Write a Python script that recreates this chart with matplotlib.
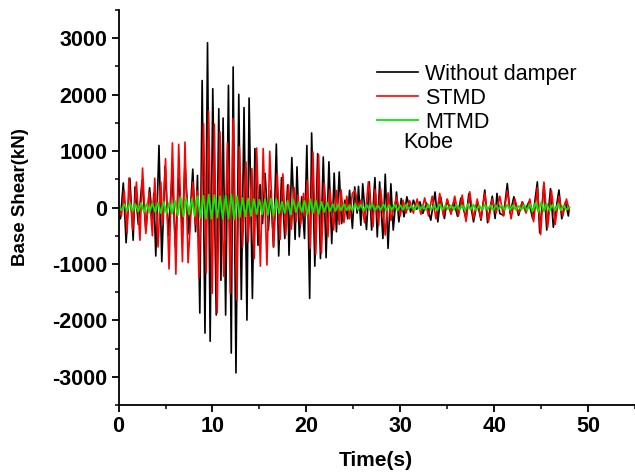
import matplotlib
matplotlib.use("Agg")
import matplotlib.pyplot as plt
from matplotlib.ticker import MultipleLocator

# ---- data: extrema (time [s], base shear [kN]) ----
t_without = [0.0, 0.2, 0.5, 0.8, 1.2, 1.55, 1.75, 2.1, 2.5, 2.9, 3.3, 3.6, 3.75, 3.96,
             4.3, 4.6, 4.95, 5.3, 5.7, 6.05, 6.4, 6.8, 7.07, 7.5, 7.9, 8.2, 8.4, 8.65,
             8.9, 9.2, 9.47, 9.75, 10.03, 10.4, 10.67, 10.9, 11.13, 11.4, 11.7, 12.0,
             12.2, 12.5, 12.8, 13.07, 13.36, 13.67, 13.9, 14.25, 14.52, 14.85, 15.07,
             15.33, 15.6, 15.95, 16.2, 16.5, 16.8, 17.05, 17.35, 17.7, 18.0, 18.15,
             18.45, 18.8, 19.0, 19.25, 19.5, 19.8, 20.05, 20.35, 20.56, 20.9, 21.2,
             21.5, 21.8, 22.1, 22.4, 22.7, 22.96, 23.2, 23.5, 23.75, 24.1, 24.4, 24.6,
             24.9, 25.15, 25.4, 25.55, 25.8, 26.0, 26.4, 26.7, 26.95, 27.3, 27.55,
             27.8, 28.15, 28.4, 28.7, 29.0, 29.25, 29.6, 29.85, 30.1, 30.4, 30.7,
             31.1, 31.4, 31.75, 32.1, 32.4, 32.8, 33.25, 33.7, 34.0, 34.3, 34.7,
             35.0, 35.4, 35.7, 36.1, 36.45, 37.0, 37.3, 37.8, 38.2, 38.6, 39.0, 39.3,
             39.8, 40.1, 40.3, 40.6, 41.0, 41.4, 41.7, 42.1, 42.6, 43.0, 43.3, 43.7,
             44.1, 44.6, 44.85, 45.3, 45.6, 46.0, 46.3, 46.9, 47.2, 47.6, 47.9, 48.0]
v_without = [0, -200, 435, -625, 520, -580, 365, -300, 480, -400, 350, -200, 250, -860,
             1100, -960, 730, -500, 600, -700, 520, -340, 780, -470, 680, -430, 570, -1870,
             2250, -2225, 2920, -2370, 2105, -1905, 1750, -1290, 1585, -1905, 2165, -2580,
             2490, -2930, 2005, -1630, 1770, -1995, 1940, -1610, 1045, -670, 405,
             -285, 605, -400, 300, -700, 1125, -860, 530, -550, 400, -845,
             885, -565, 720, -520, 190, -550, 1100, -1610, 1320, -1040, 955,
             -905, 895, -890, 810, -640, 610, -430, 630, -285, 130, -200, 305,
             -370, 365, -100, 375, -315, 420, -390, 455, -400, 530, -520,
             455, -550, 590, -725, 420, -400, 275, -255, 160, -165, 190,
             -80, 130, -30, 100, -105, 80, -225, 275, -255, 190, -195,
             140, -105, 100, -155, 165, -200, 245, -255, 100, -225, 310, -270,
             200, -195, 250, -105, -140, 425, -105, 190, -140, 100, -50, 100,
             -200, 455, -450, 425, -400, 335, -350, 310, -200, 100, -150, 0]

t_stmd = [0.0, 0.3, 0.6, 0.9, 1.1, 1.5, 1.9, 2.27, 2.55, 2.9, 3.25, 3.6, 3.85, 4.2, 4.5,
          4.7, 5.0, 5.37, 5.73, 6.1, 6.4, 6.8, 7.07, 7.4, 7.9, 8.2, 8.35, 8.55, 9.05,
          9.33, 9.58, 9.97, 10.2, 10.5, 10.8, 11.2, 11.6, 11.9, 12.2, 12.6, 12.86,
          13.2, 13.56, 13.8, 14.2, 14.45, 14.7, 15.1, 15.4, 15.8, 16.1, 16.5, 16.9,
          17.2, 17.5, 17.8, 18.1, 18.4, 18.7, 18.9, 19.1, 19.4, 19.7, 19.9, 20.1,
          20.4, 20.7, 21.0, 21.3, 21.6, 21.9, 22.3, 22.5, 22.9, 23.2, 23.5, 23.7,
          24.0, 24.3, 24.6, 24.9, 25.2, 25.5, 25.8, 26.2, 26.6, 27.1, 27.3, 27.7,
          27.9, 28.4, 28.7, 29.0, 29.6, 30.0, 30.3, 30.6, 31.0, 31.4, 31.8, 32.2,
          32.6, 33.0, 33.4, 33.8, 34.2, 34.6, 35.0, 35.4, 35.8, 36.2, 36.6, 37.0,
          37.4, 37.8, 38.2, 38.6, 39.0, 39.4, 39.8, 40.2, 40.6, 41.0, 41.4, 41.8,
          42.2, 42.6, 43.0, 43.4, 43.8, 44.2, 44.6, 44.95, 45.3, 45.7, 46.1, 46.5,
          46.9, 47.3, 47.7, 48.0]
v_stmd = [0, -150, 300, -450, 520, -400, 450, -580, 700, -460, 275, -500, 520, -700, 450,
          -300, 865, -1090, 1145, -1180, 1120, -960, 1160, -980, 450, -300, 300, -1250, 1485,
          -1160, 1710, -1520, 1475, -1865, 1340, -1220, 1145, -1520, 1575, -1640, 1075,
          -700, 810, -610, 690, -905, 1055, -1040, 1045, -1020, 995, -700, 600,
          -565, 595, -490, 400, -385, 350, -250, 220, -300, 250, -150, 485,
          -725, 985, -825, 935, -810, 435, -520, 320, -400, 300, -300, 310,
          -270, 200, -200, 250, 305, -55, 130, -270, 455, -340, 320, -315,
          340, -490, 260, -230, 190, -150, 130, -100, 120, -100, 150, -120,
          170, -150, 200, -200, 250, -150, 150, -120, 200, -150, 220, -250,
          280, -200, 150, -200, 250, -250, 150, -100, 200, -150, 300, -200,
          150, -100, 100, -100, 150, -250, 350, -480, 450, -350, 300, -300,
          200, -150, 150, -50]

t_mtmd = [0.0, 0.3, 0.6, 0.9, 1.2, 1.5, 1.8, 2.1, 2.4, 2.7, 3.0, 3.3, 3.6, 3.9, 4.2, 4.5,
          4.8, 5.1, 5.4, 5.7, 6.0, 6.3, 6.6, 6.9, 7.2, 7.5, 7.8, 8.1, 8.4, 8.7, 9.0,
          9.3, 9.6, 9.9, 10.2, 10.5, 10.8, 11.1, 11.4, 11.7, 12.0, 12.3, 12.6, 12.9,
          13.2, 13.5, 13.8, 14.1, 14.4, 14.7, 15.0, 15.3, 15.6, 15.9, 16.2, 16.5,
          16.8, 17.1, 17.4, 17.7, 18.0, 18.3, 18.6, 18.9, 19.2, 19.5, 19.8, 20.1,
          20.4, 20.7, 21.0, 21.3, 21.6, 21.9, 22.2, 22.5, 22.8, 23.1, 23.4, 23.7,
          24.0, 24.3, 24.6, 24.9, 25.2, 25.5, 25.8, 26.1, 26.4, 26.7, 27.0, 27.3,
          27.6, 27.9, 28.2, 28.5, 28.8, 29.1, 29.4, 29.7, 30.0, 30.3, 30.6, 30.9,
          31.2, 31.5, 31.8, 32.1, 32.4, 32.7, 33.0, 33.3, 33.6, 33.9, 34.2, 34.5,
          34.8, 35.1, 35.4, 35.7, 36.0, 36.3, 36.6, 36.9, 37.2, 37.5, 37.8, 38.1,
          38.4, 38.7, 39.0, 39.3, 39.6, 39.9, 40.2, 40.5, 40.8, 41.1, 41.4, 41.7,
          42.0, 42.3, 42.6, 42.9, 43.2, 43.5, 43.8, 44.1, 44.4, 44.7, 45.0, 45.3,
          45.6, 45.9, 46.2, 46.5, 46.8, 47.1, 47.4, 47.7, 48.0]
v_mtmd = [0, -50, 60, -60, 80, -60, 60, -70, 80, -80, 70, -90, 80, -80, 90, -100,
          100, -100, 90, -110, 120, -140, 180, -160, 160, -120, 150, -150, 200, -180, 210,
          -200, 230, -200, 220, -180, 200, -200, 210, -200, 230, -210, 200, -180,
          170, -160, 160, -150, 150, -120, 140, -120, 150, -130, 160, -150,
          150, -100, 100, -100, 120, -120, 140, -80, 100, -80, 120, -120,
          150, -100, 130, -120, 100, -80, 90, -70, 60, -60, 50, -50,
          60, -50, 40, -50, 60, -40, 50, -60, 50, -40, 60, -50,
          40, -50, 60, -50, 40, -40, 50, -50, 40, -40, 50, -30,
          40, -50, 50, -40, 30, -40, 50, -40, 40, -50, 60, -40,
          40, -30, 40, -40, 50, -40, 40, -50, 60, -40, 50, -50,
          40, -40, 50, -40, 40, -50, 40, -30, 40, -40, 50, -40,
          40, -40, 30, -40, 50, -50, 60, -70, 80, -80, 90, -70,
          70, -60, 50, -50, 60, -50, 40, -40, 0]

series_labels = ["Without damper", "STMD", "MTMD"]
series_colors = ["#000000", "#ff0000", "#00ee00"]
annotation = "Kobe"

x_ticks = [0, 10, 20, 30, 40, 50]
y_ticks = [-3000, -2000, -1000, 0, 1000, 2000, 3000]

# ---- figure ----
plt.rcParams['font.family'] = ['Liberation Sans', 'DejaVu Sans']
plt.rcParams['axes.unicode_minus'] = False
W, H = 635, 475
fig = plt.figure(figsize=(W / 100, H / 100), dpi=100)
ax = fig.add_axes([118.6 / W, 1 - 405 / H, (W - 118.6) / W, (405 - 10) / H])

ax.plot(t_without, v_without, color=series_colors[0], lw=1.2, label=series_labels[0])
ax.plot(t_stmd, v_stmd, color=series_colors[1], lw=1.2, label=series_labels[1])
ax.plot(t_mtmd, v_mtmd, color=series_colors[2], lw=1.3, label=series_labels[2])

ax.set_xlim(0, 55)
ax.set_ylim(-3500, 3500)
ax.set_xticks(x_ticks)
ax.set_yticks(y_ticks)
ax.xaxis.set_minor_locator(MultipleLocator(5))
ax.yaxis.set_minor_locator(MultipleLocator(500))

for s in ["top", "right"]:
    ax.spines[s].set_visible(False)
for s in ["left", "bottom"]:
    ax.spines[s].set_linewidth(1.3)

ax.tick_params(which="major", direction="out", length=5, width=1.3, labelsize=15.5, pad=3)
ax.tick_params(which="minor", direction="out", length=3, width=1.1)
for lab in ax.get_xticklabels() + ax.get_yticklabels():
    lab.set_fontweight("bold")

ax.set_xlabel("Time(s)", fontsize=15, fontweight="bold", va="center")
ax.set_ylabel("Base Shear(kN)", fontsize=13.5, fontweight="bold", va="center")
ax.xaxis.set_label_coords((376 - 118.6) / (W - 118.6), (405 - 461) / 395)
ax.yaxis.set_label_coords((20 - 118.6) / (W - 118.6), (405 - 197) / 395)

leg = ax.legend(loc="upper left", bbox_to_anchor=(377 / W, 1 - 64 / H),
                bbox_transform=fig.transFigure, frameon=False,
                fontsize=15.5, handlelength=1.9, handletextpad=0.33, labelspacing=0.14,
                borderaxespad=0, borderpad=0)
fig.text(403 / W, 1 - 142 / H, annotation, fontsize=15.5, ha="left", va="center")

fig.savefig("out.png", dpi=100)
